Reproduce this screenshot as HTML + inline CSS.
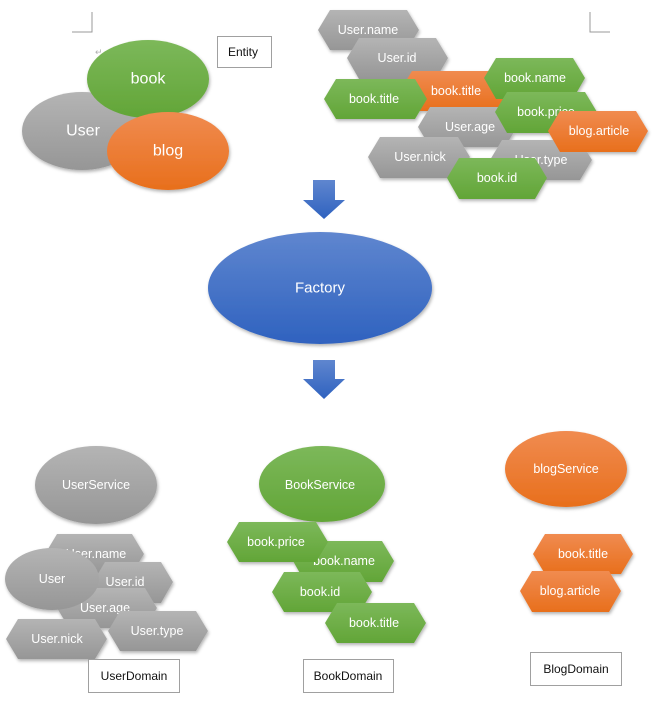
<!DOCTYPE html>
<html><head><meta charset="utf-8"><style>
html,body{margin:0;padding:0;background:#fff;}
svg{display:block;font-family:"Liberation Sans",sans-serif;}
.t{fill:#fff;text-anchor:middle;dominant-baseline:central;}
.r{fill:#b0b0b0;font-size:9px;}
.bx{fill:#fff;stroke:#a0a0a0;stroke-width:1;}
.bt{fill:#111;font-size:12px;text-anchor:middle;dominant-baseline:central;}
</style></head><body>
<svg width="661" height="705" viewBox="0 0 661 705" xmlns="http://www.w3.org/2000/svg">
<defs>
<linearGradient id="gg" x1="0" y1="0" x2="0" y2="1"><stop offset="0" stop-color="#b4b4b4"/><stop offset="1" stop-color="#969696"/></linearGradient>
<linearGradient id="gr" x1="0" y1="0" x2="0" y2="1"><stop offset="0" stop-color="#7cb85a"/><stop offset="1" stop-color="#62a537"/></linearGradient>
<linearGradient id="go" x1="0" y1="0" x2="0" y2="1"><stop offset="0" stop-color="#f08b50"/><stop offset="1" stop-color="#e86f1c"/></linearGradient>
<linearGradient id="gb" x1="0" y1="0" x2="0" y2="1"><stop offset="0" stop-color="#5f86cf"/><stop offset="1" stop-color="#2f62bf"/></linearGradient>
<filter id="sh" x="-10%" y="-10%" width="130%" height="140%"><feDropShadow dx="1" dy="2" stdDeviation="1.5" flood-color="#000" flood-opacity="0.3"/></filter>
</defs>

<!-- corner marks -->
<path d="M92 12 V32 H72" fill="none" stroke="#999"/>
<path d="M590 12 V32 H610" fill="none" stroke="#999"/>
<text x="95" y="55" class="r">↵</text>

<!-- top-left ellipses -->
<g filter="url(#sh)">
<ellipse cx="82" cy="131" rx="60" ry="39" fill="url(#gg)"/>
<ellipse cx="148" cy="79" rx="61" ry="39" fill="url(#gr)"/>
<ellipse cx="168" cy="151" rx="61" ry="39" fill="url(#go)"/>
</g>
<text x="83" y="131" class="t" font-size="16">User</text>
<text x="148" y="79" class="t" font-size="16">book</text>
<text x="168" y="151" class="t" font-size="16">blog</text>

<rect x="217.5" y="36.5" width="54" height="31" class="bx"/>
<text x="243" y="52" class="bt">Entity</text>

<!-- top-right hexes -->
<g filter="url(#sh)" font-size="12.5">
<polygon points="330,10 407,10 419,30 407,50 330,50 318,30" fill="url(#gg)"/>
<text x="368" y="30" class="t">User.name</text>
<polygon points="359,38 436,38 448,58 436,79 359,79 347,58" fill="url(#gg)"/>
<text x="397" y="58" class="t">User.id</text>
<polygon points="412,71 498,71 510,91 498,111 412,111 400,91" fill="url(#go)"/>
<text x="456" y="91" class="t">book.title</text>
<polygon points="336,79 415,79 427,99 415,119 336,119 324,99" fill="url(#gr)"/>
<text x="374" y="99" class="t">book.title</text>
<polygon points="430,107 505,107 517,127 505,147 430,147 418,127" fill="url(#gg)"/>
<text x="470" y="127" class="t">User.age</text>
<polygon points="496,58 573,58 585,78 573,99 496,99 484,78" fill="url(#gr)"/>
<text x="535" y="78" class="t">book.name</text>
<polygon points="507,92 585,92 597,112 585,133 507,133 495,112" fill="url(#gr)"/>
<text x="546" y="112" class="t">book.price</text>
<polygon points="502,140 580,140 592,160 580,180 502,180 490,160" fill="url(#gg)"/>
<text x="541" y="160" class="t">User.type</text>
<polygon points="560,111 636,111 648,131 636,152 560,152 548,131" fill="url(#go)"/>
<text x="599" y="131" class="t">blog.article</text>
<polygon points="380,137 458,137 470,157 458,178 380,178 368,157" fill="url(#gg)"/>
<text x="420" y="157" class="t">User.nick</text>
<polygon points="459,158 535,158 547,178 535,199 459,199 447,178" fill="url(#gr)"/>
<text x="497" y="178" class="t">book.id</text>
</g>

<!-- arrows -->
<g fill="url(#gb)">
<polygon points="313,180 335,180 335,200 345,200 324,219 303,200 313,200"/>
<polygon points="313,360 335,360 335,379 345,379 324,399 303,379 313,379"/>
</g>
<ellipse cx="320" cy="288" rx="112" ry="56" fill="url(#gb)" filter="url(#sh)"/>
<text x="320" y="288" class="t" font-size="15">Factory</text>

<!-- services -->
<g filter="url(#sh)">
<ellipse cx="96" cy="485" rx="61" ry="39" fill="url(#gg)"/>
<ellipse cx="322" cy="484" rx="63" ry="38" fill="url(#gr)"/>
<ellipse cx="566" cy="469" rx="61" ry="38" fill="url(#go)"/>
</g>
<text x="96" y="485" class="t" font-size="12.5">UserService</text>
<text x="320" y="485" class="t" font-size="12.5">BookService</text>
<text x="566" y="469" class="t" font-size="12.5">blogService</text>

<!-- bottom-left -->
<g filter="url(#sh)" font-size="12.5">
<polygon points="57,534 132,534 144,554 132,574 57,574 45,554" fill="url(#gg)"/>
<text x="96" y="554" class="t">User.name</text>
<polygon points="105,562 161,562 173,582 161,603 105,603 93,582" fill="url(#gg)"/>
<text x="125" y="582" class="t">User.id</text>
<polygon points="69,588 145,588 157,608 145,628 69,628 57,608" fill="url(#gg)"/>
<text x="105" y="608" class="t">User.age</text>
<ellipse cx="52" cy="579" rx="47" ry="31" fill="url(#gg)"/>
<text x="52" y="579" class="t">User</text>
<polygon points="18,619 95,619 107,639 95,659 18,659 6,639" fill="url(#gg)"/>
<text x="57" y="639" class="t">User.nick</text>
<polygon points="120,611 196,611 208,631 196,651 120,651 108,631" fill="url(#gg)"/>
<text x="157" y="631" class="t">User.type</text>
</g>
<rect x="88.5" y="659.5" width="91" height="33" class="bx"/>
<text x="134" y="676" class="bt">UserDomain</text>

<!-- bottom-middle -->
<g filter="url(#sh)" font-size="12.5">
<polygon points="305,541 382,541 394,561 382,582 305,582 293,561" fill="url(#gr)"/>
<text x="344" y="561" class="t">book.name</text>
<polygon points="239,522 316,522 328,542 316,562 239,562 227,542" fill="url(#gr)"/>
<text x="276" y="542" class="t">book.price</text>
<polygon points="284,572 360,572 372,592 360,612 284,612 272,592" fill="url(#gr)"/>
<text x="320" y="592" class="t">book.id</text>
<polygon points="337,603 414,603 426,623 414,643 337,643 325,623" fill="url(#gr)"/>
<text x="374" y="623" class="t">book.title</text>
</g>
<rect x="303.5" y="659.5" width="90" height="33" class="bx"/>
<text x="348" y="676" class="bt">BookDomain</text>

<!-- right -->
<g filter="url(#sh)" font-size="12.5">
<polygon points="545,534 621,534 633,554 621,574 545,574 533,554" fill="url(#go)"/>
<text x="583" y="554" class="t">book.title</text>
<polygon points="532,571 609,571 621,591 609,612 532,612 520,591" fill="url(#go)"/>
<text x="570" y="591" class="t">blog.article</text>
</g>
<rect x="530.5" y="652.5" width="91" height="33" class="bx"/>
<text x="576" y="669" class="bt">BlogDomain</text>
</svg>
</body></html>
